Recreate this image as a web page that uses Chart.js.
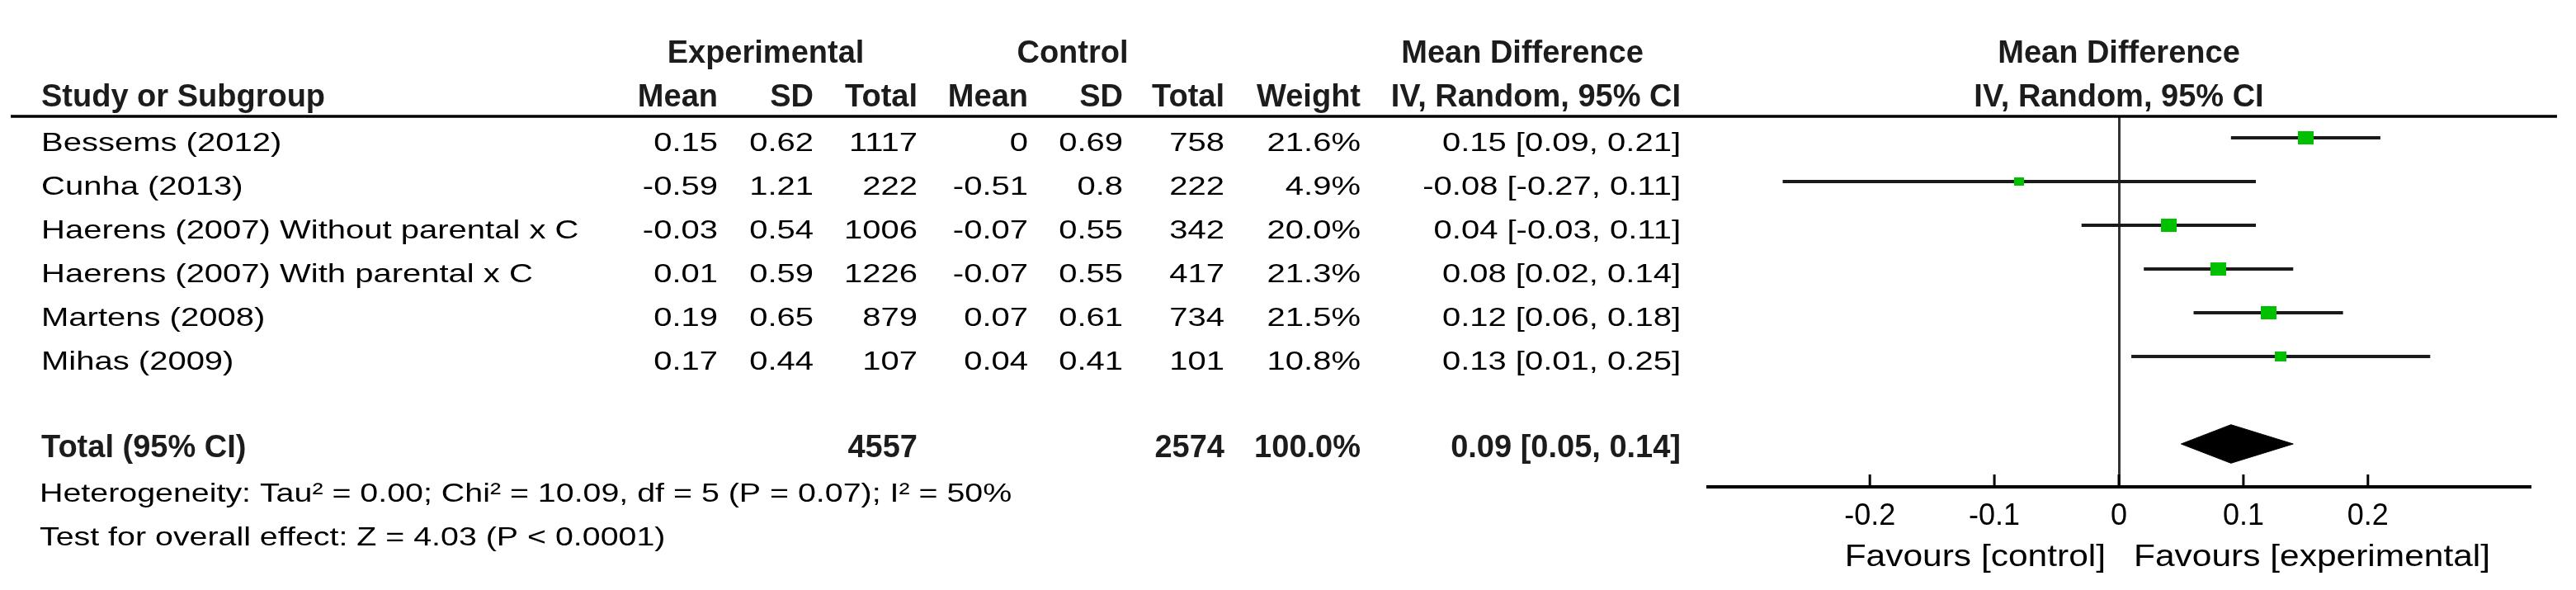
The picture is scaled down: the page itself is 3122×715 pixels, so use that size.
<!DOCTYPE html>
<html>
<head>
<meta charset="utf-8">
<script src="https://cdn.jsdelivr.net/npm/chart.js@4.4.1/dist/chart.umd.min.js"></script>
<style>
  html, body { margin: 0; padding: 0; background: #fff; }
  #wrap { position: relative; width: 3122px; height: 715px; }
</style>
</head>
<body>
<div id="wrap"><canvas id="forest"></canvas></div>
<script>
/* Forest plot: mean difference, random effects */

var studies = ['Bessems (2012)', 'Cunha (2013)', 'Haerens (2007) Without parental x C',
  'Haerens (2007) With parental x C', 'Martens (2008)', 'Mihas (2009)'];
var expMean = [0.15, -0.59, -0.03, 0.01, 0.19, 0.17];
var expSD = [0.62, 1.21, 0.54, 0.59, 0.65, 0.44];
var expTotal = [1117, 222, 1006, 1226, 879, 107];
var ctlMean = [0, -0.51, -0.07, -0.07, 0.07, 0.04];
var ctlSD = [0.69, 0.8, 0.55, 0.55, 0.61, 0.41];
var ctlTotal = [758, 222, 342, 417, 734, 101];
var weights = [21.6, 4.9, 20.0, 21.3, 21.5, 10.8];
var meanDiff = [0.15, -0.08, 0.04, 0.08, 0.12, 0.13];
var ciLow = [0.09, -0.27, -0.03, 0.02, 0.06, 0.01];
var ciHigh = [0.21, 0.11, 0.11, 0.14, 0.18, 0.25];

var totalExp = 4557;
var totalCtl = 2574;
var totalWeight = 100.0;
var pooled = [0.09, 0.05, 0.14];   // estimate, low, high
var heterogeneity = 'Heterogeneity: Tau\u00b2 = 0.00; Chi\u00b2 = 10.09, df = 5 (P = 0.07); I\u00b2 = 50%';
var overallTest = 'Test for overall effect: Z = 4.03 (P < 0.0001)';

var tickValues = [-0.2, -0.1, 0, 0.1, 0.2];
var tickLabels = ['-0.2', '-0.1', '0', '0.1', '0.2'];
var favourLeft = 'Favours [control]';
var favourRight = 'Favours [experimental]';

var TOTAL_ROW = 7;
var FONT = '"Liberation Sans", Arial, sans-serif';

function fmtCI(m, lo, hi) {
  return m.toFixed(2) + ' [' + lo.toFixed(2) + ', ' + hi.toFixed(2) + ']';
}

// green boxes, area grows with the weight
function makeBox(w) {
  var k = Math.sqrt(w / 21.6);
  var h = Math.round(4 + 12 * k);
  var wd = Math.round(h * 1.2);
  var c = document.createElement('canvas');
  c.width = wd; c.height = h;
  var g = c.getContext('2d');
  g.fillStyle = '#00c000';
  g.fillRect(0, 0, wd, h);
  return c;
}

function put(ctx, str, x, yc, size, bold, align, sx) {
  ctx.save();
  ctx.font = (bold ? 'bold ' : '') + size + 'px ' + FONT;
  ctx.textBaseline = 'alphabetic';
  ctx.textAlign = align;
  ctx.fillStyle = bold ? '#1c1c1c' : '#000';
  ctx.translate(x, yc + 0.358 * size);
  ctx.scale(sx || 1, 1);
  ctx.fillText(str, 0, 0);
  ctx.restore();
}

var tablePlugin = {
  id: 'forestTable',
  afterDraw: function (chart) {
    var ctx = chart.ctx;
    var xs = chart.scales.x, ys = chart.scales.y;
    var zero = xs.getPixelForValue(0);
    var axisY = chart.chartArea.bottom;
    var colR = [870, 986, 1112, 1246, 1361, 1484, 1649, 2037];
    var rowY = function (i) { return ys.getPixelForValue(i); };

    // rule under the header
    ctx.save();
    ctx.strokeStyle = '#000';
    ctx.lineWidth = 3.5;
    ctx.beginPath();
    ctx.moveTo(13, chart.chartArea.top);
    ctx.lineTo(3099, chart.chartArea.top);
    ctx.stroke();

    // tick marks pointing up
    ctx.lineWidth = 3;
    tickValues.forEach(function (v) {
      var px = xs.getPixelForValue(v);
      ctx.beginPath();
      ctx.moveTo(px, axisY);
      ctx.lineTo(px, axisY - 15);
      ctx.stroke();
    });
    ctx.restore();

    // headers
    var h1 = rowY(-2) + 1, h2 = rowY(-1) + 1;
    put(ctx, 'Experimental', 928, h1, 38, true, 'center');
    put(ctx, 'Control', 1300, h1, 38, true, 'center');
    put(ctx, 'Mean Difference', 1845, h1, 38, true, 'center');
    put(ctx, 'Mean Difference', zero, h1, 38, true, 'center');
    put(ctx, 'Study or Subgroup', 50, h2, 38, true, 'left');
    var heads = ['Mean', 'SD', 'Total', 'Mean', 'SD', 'Total', 'Weight', 'IV, Random, 95% CI'];
    heads.forEach(function (t, j) { put(ctx, t, colR[j], h2, 38, true, 'right'); });
    put(ctx, 'IV, Random, 95% CI', zero, h2, 38, true, 'center');

    // study rows
    studies.forEach(function (name, i) {
      var y = rowY(i) + 5;
      put(ctx, name, 50, y, 32, false, 'left', 1.25);
      var cells = [String(expMean[i]), String(expSD[i]), String(expTotal[i]),
        String(ctlMean[i]), String(ctlSD[i]), String(ctlTotal[i]),
        weights[i].toFixed(1) + '%', fmtCI(meanDiff[i], ciLow[i], ciHigh[i])];
      cells.forEach(function (t, j) { put(ctx, t, colR[j], y, 32, false, 'right', 1.25); });
    });

    // total row
    var ty = rowY(TOTAL_ROW) + 2;
    put(ctx, 'Total (95% CI)', 50, ty, 38, true, 'left');
    put(ctx, String(totalExp), colR[2], ty, 38, true, 'right');
    put(ctx, String(totalCtl), colR[5], ty, 38, true, 'right');
    put(ctx, totalWeight.toFixed(1) + '%', colR[6], ty, 38, true, 'right');
    put(ctx, fmtCI(pooled[0], pooled[1], pooled[2]), colR[7], ty, 38, true, 'right');

    put(ctx, heterogeneity, 48, rowY(TOTAL_ROW + 1.1), 32, false, 'left', 1.23);
    put(ctx, overallTest, 48, rowY(TOTAL_ROW + 2.1), 32, false, 'left', 1.23);

    // favours labels
    put(ctx, favourLeft, zero - 16, axisY + 83, 36, false, 'right', 1.18);
    put(ctx, favourRight, zero + 18, axisY + 83, 36, false, 'left', 1.18);
  }
};

var boxData = meanDiff.map(function (m, i) { return { x: m, y: i }; });
var datasets = [{
  label: 'Studies',
  data: boxData,
  pointStyle: weights.map(makeBox),
  showLine: false
}];
studies.forEach(function (s, i) {
  datasets.push({
    label: s,
    data: [{ x: ciLow[i], y: i }, { x: ciHigh[i], y: i }],
    showLine: true,
    borderColor: '#1a1a1a',
    borderWidth: 4,
    pointRadius: 0
  });
});
var dh = 0.44;
datasets.push({
  label: 'Total',
  data: [
    { x: pooled[1], y: TOTAL_ROW }, { x: pooled[0], y: TOTAL_ROW - dh },
    { x: pooled[2], y: TOTAL_ROW }, { x: pooled[0], y: TOTAL_ROW + dh },
    { x: pooled[1], y: TOTAL_ROW }
  ],
  showLine: true,
  borderColor: '#000',
  borderWidth: 1,
  backgroundColor: '#000',
  fill: 'shape',
  pointRadius: 0,
  tension: 0
});

var ctx = document.getElementById('forest').getContext('2d');
var chart = new Chart(ctx, {
  type: 'scatter',
  data: { datasets: datasets },
  options: {
    animation: false,
    responsive: true,
    maintainAspectRatio: false,
    devicePixelRatio: 1,
    layout: { padding: { left: 2070, right: 56, top: 141, bottom: 55 } },
    plugins: { legend: { display: false }, tooltip: { enabled: false } },
    scales: {
      x: {
        type: 'linear',
        min: -0.33,
        max: 0.33,
        afterBuildTicks: function (s) { s.ticks = tickValues.map(function (v) { return { value: v }; }); },
        afterFit: function (s) { s.height = 70; },
        border: { display: true, color: '#000', width: 4 },
        grid: {
          drawTicks: false,
          lineWidth: 3,
          color: function (c) { return c.tick && c.tick.value === 0 ? '#333' : 'rgba(0,0,0,0)'; }
        },
        ticks: {
          color: '#000',
          padding: 14,
          font: { family: FONT, size: 36 },
          callback: function (v, i) { return tickLabels[i]; }
        }
      },
      y: { type: 'linear', display: false, reverse: true, min: -0.4906, max: 7.981 }
    }
  },
  plugins: [tablePlugin]
});
</script>
</body>
</html>
